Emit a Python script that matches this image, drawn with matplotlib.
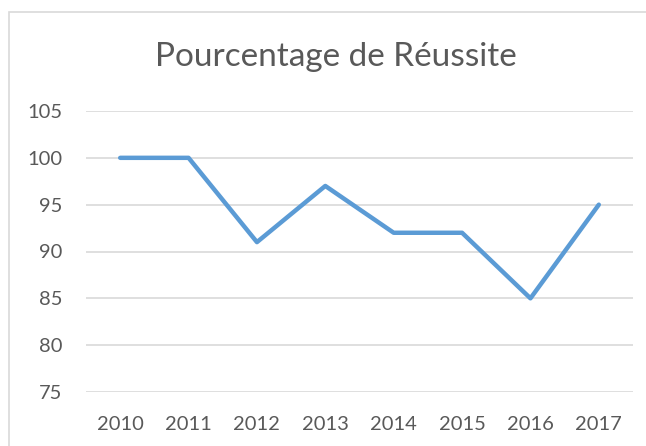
import matplotlib.pyplot as plt
from matplotlib.patches import Rectangle

annees = ['2010', '2011', '2012', '2013', '2014', '2015', '2016', '2017']
reussite = [100, 100, 91, 97, 92, 92, 85, 95]
yticks = [75, 80, 85, 90, 95, 100, 105]

plt.rcParams['font.family'] = ['Lato', 'DejaVu Sans']

W, H = 646, 446
fig = plt.figure(figsize=(W / 100, H / 100), dpi=100)

# cadre du graphique (coupé à droite et en bas)
fig.patches.append(Rectangle((9 / W, -0.1), 1.2, 1 - 12 / H + 0.1,
                             transform=fig.transFigure, fill=False,
                             edgecolor='#d9d9d9', linewidth=1.2))

ax = fig.add_axes([86 / W, 1 - 392 / H, (633 - 86) / W, (392 - 111) / H])
x = list(range(len(annees)))
ax.plot(x, reussite, color='#5b9bd5', linewidth=3.2, solid_joinstyle='round',
        solid_capstyle='round', zorder=3)

ax.set_xlim(-0.5, len(annees) - 0.5)
ax.set_ylim(75, 105)
ax.set_yticks(yticks)
ax.set_xticks(x)
ax.set_xticklabels(annees)
ax.grid(axis='y', color='#d9d9d9', linewidth=1.2)
ax.set_axisbelow(True)
for s in ax.spines.values():
    s.set_visible(False)
ax.tick_params(length=0, labelsize=14.5, colors='#595959')
ax.tick_params(axis='y', pad=17)
ax.tick_params(axis='x', pad=17)

fig.text(336 / W, 1 - 57 / H, 'Pourcentage de Réussite', ha='center', va='center',
         fontsize=24, color='#595959')

fig.savefig('out.png', dpi=100)
